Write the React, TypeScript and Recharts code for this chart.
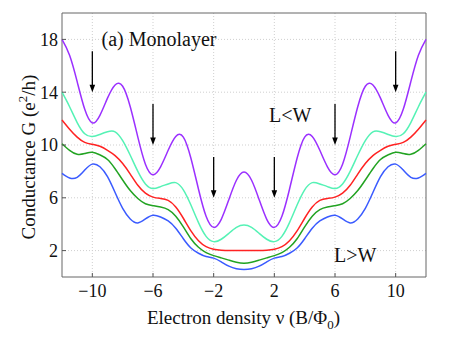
import React from 'react';
import {
  LineChart,
  Line,
  XAxis,
  YAxis,
  CartesianGrid,
  ReferenceLine,
  ReferenceArea,
  Customized,
} from 'recharts';

// Electron density (B/Phi0)
const nu = [
  -12, -11.5, -11, -10.5, -10, -9.5, -9, -8.5, -8, -7.5, -7, -6.5, -6, -5.5, -5, -4.5, -4, -3.5, -3, -2.5, -2, -1.5, -1, -0.5,
  0, 0.5, 1, 1.5, 2, 2.5, 3, 3.5, 4, 4.5, 5, 5.5, 6, 6.5, 7, 7.5, 8, 8.5, 9, 9.5, 10, 10.5, 11, 11.5, 12,
];

// Conductance curves (e^2/h)
const purple = [
  18.0, 16.8, 14.8, 12.7, 11.67, 12.25, 13.55, 14.55, 14.45, 12.9, 10.6, 8.55, 7.75, 8.35, 9.6, 10.65, 10.6, 9.0, 6.65, 4.6, 3.76, 4.37, 5.86, 7.33,
  7.95,
  7.33, 5.86, 4.37, 3.76, 4.6, 6.65, 9.0, 10.6, 10.65, 9.6, 8.35, 7.75, 8.55, 10.6, 12.9, 14.45, 14.55, 13.55, 12.25, 11.67, 12.7, 14.8, 16.8, 18.0,
];
const cyan = [
  14.0, 12.9, 11.7, 10.85, 10.64, 10.8, 11.0, 11.0, 10.33, 9.22, 8.0, 7.05, 6.7, 6.85, 7.05, 7.15, 6.6, 5.45, 4.12, 3.08, 2.68, 2.86, 3.31, 3.76,
  3.94,
  3.76, 3.31, 2.86, 2.68, 3.08, 4.12, 5.45, 6.6, 7.15, 7.05, 6.85, 6.7, 7.05, 8.0, 9.22, 10.33, 11.0, 11.0, 10.8, 10.64, 10.85, 11.7, 12.9, 14.0,
];
const red = [
  11.9, 11.2, 10.6, 10.2, 10.05, 9.9, 9.6, 9.2, 8.6, 7.8, 6.95, 6.35, 6.05, 5.95, 5.8, 5.3, 4.45, 3.5, 2.75, 2.3, 2.1, 2.03, 2.0, 2.0,
  2.0,
  2.0, 2.0, 2.03, 2.1, 2.3, 2.75, 3.5, 4.45, 5.3, 5.8, 5.95, 6.05, 6.35, 6.95, 7.8, 8.6, 9.2, 9.6, 9.9, 10.05, 10.2, 10.6, 11.2, 11.9,
];
const green = [
  10.1, 9.6, 9.3, 9.35, 9.45, 9.25, 8.9, 8.2, 7.35, 6.55, 5.95, 5.55, 5.4, 5.3, 5.1, 4.6, 3.8, 2.9, 2.25, 1.85, 1.62, 1.45, 1.28, 1.12,
  1.05,
  1.12, 1.28, 1.45, 1.62, 1.85, 2.25, 2.9, 3.8, 4.6, 5.1, 5.3, 5.4, 5.55, 5.95, 6.55, 7.35, 8.2, 8.9, 9.25, 9.45, 9.35, 9.3, 9.6, 10.1,
];
const blue = [
  7.85, 7.5, 7.55, 8.1, 8.55, 8.35, 7.6, 6.4, 5.2, 4.4, 4.1, 4.4, 4.68, 4.55, 4.25, 3.7, 2.9, 2.2, 1.8, 1.55, 1.43, 1.15, 0.82, 0.62,
  0.56,
  0.62, 0.82, 1.15, 1.43, 1.55, 1.8, 2.2, 2.9, 3.7, 4.25, 4.55, 4.68, 4.4, 4.1, 4.4, 5.2, 6.4, 7.6, 8.35, 8.55, 8.1, 7.55, 7.5, 7.85,
];

const xTicks = [-10, -6, -2, 2, 6, 10];
const yTicks = [2, 6, 10, 14, 18];

// Arrows: x position, tail value, tip value
const arrowX = [-10, -6, -2, 2, 6, 10];
const arrowTail = [17.1, 13.1, 9.1, 9.1, 13.1, 17.1];
const arrowTip = [14, 10, 6, 6, 10, 14];

const data = nu.map((x, i) => ({
  x,
  p: purple[i],
  c: cyan[i],
  r: red[i],
  g: green[i],
  b: blue[i],
}));

const FONT = '"Liberation Serif", "DejaVu Serif", "Times New Roman", serif';
const TICK_COLOR = '#555';

const fmt = (v: number) => (v < 0 ? '\u2212' + Math.abs(v) : String(v));

const XTickBottom = (props: any) => {
  const { x, y, payload } = props;
  return (
    <g>
      <line x1={x} y1={y} x2={x} y2={y - 4} stroke={TICK_COLOR} strokeWidth={1} />
      <text x={x} y={y + 20} textAnchor="middle" fontFamily={FONT} fontSize={18} fill="#111">
        {fmt(payload.value)}
      </text>
    </g>
  );
};

const XTickTop = (props: any) => {
  const { x, y } = props;
  return <line x1={x} y1={y} x2={x} y2={y + 4} stroke={TICK_COLOR} strokeWidth={1} />;
};

const YTickLeft = (props: any) => {
  const { x, y, payload } = props;
  return (
    <g>
      <line x1={x} y1={y} x2={x + 4} y2={y} stroke={TICK_COLOR} strokeWidth={1} />
      <text x={x - 4} y={y} dy="0.35em" textAnchor="end" fontFamily={FONT} fontSize={18} fill="#111">
        {fmt(payload.value)}
      </text>
    </g>
  );
};

const YTickRight = (props: any) => {
  const { x, y } = props;
  return <line x1={x} y1={y} x2={x - 4} y2={y} stroke={TICK_COLOR} strokeWidth={1} />;
};

const Arrow = (props: any) => {
  const { x1, y1, x2, y2 } = props;
  if (x1 == null || y1 == null) return null;
  const x = x1;
  const tipY = Math.max(y1, y2);
  const tailY = Math.min(y1, y2);
  return (
    <g>
      <line x1={x} y1={tailY} x2={x} y2={tipY - 5} stroke="#000" strokeWidth={1.3} />
      <polygon points={`${x - 2.8},${tipY - 7.5} ${x + 2.8},${tipY - 7.5} ${x},${tipY}`} fill="#000" />
    </g>
  );
};

const Texts = () => (
  <g fontFamily={FONT} fill="#111">
    <text x={101.5} y={45.5} fontSize={20}>
      (a) Monolayer
    </text>
    <text x={269} y={121.5} fontSize={20}>
      L&lt;W
    </text>
    <text x={334} y={261.5} fontSize={20}>
      L&gt;W
    </text>
    <text x={243.5} y={323.5} fontSize={19} textAnchor="middle">
      Electron density ν (B/Φ
      <tspan fontSize={13} dy={5}>
        0
      </tspan>
      <tspan dy={-5}>)</tspan>
    </text>
    <text x={35} y={157} fontSize={19} textAnchor="middle" transform="rotate(-90 35 157)">
      Conductance G (e
      <tspan fontSize={13} dy={-8}>
        2
      </tspan>
      <tspan dy={8}>/h)</tspan>
    </text>
  </g>
);

export default function App() {
  return (
    <div style={{ position: 'absolute', left: 0, top: 0 }}>
      <LineChart
        width={471}
        height={338}
        data={data}
        margin={{ top: 13, right: 45, bottom: 31, left: 0 }}
      >
        <CartesianGrid
          stroke="#cfcfcf"
          strokeDasharray="1 2"
          verticalValues={xTicks}
          horizontalValues={yTicks}
        />
        <XAxis
          dataKey="x"
          type="number"
          domain={[-12, 12]}
          ticks={xTicks}
          axisLine={false}
          tickLine={false}
          tickSize={0}
          tickMargin={0}
          height={30}
          tick={<XTickBottom />}
          interval={0}
        />
        <XAxis
          xAxisId="top"
          orientation="top"
          dataKey="x"
          type="number"
          domain={[-12, 12]}
          ticks={xTicks}
          axisLine={false}
          tickLine={false}
          tickSize={0}
          tickMargin={0}
          height={0}
          tick={<XTickTop />}
          interval={0}
        />
        <YAxis
          type="number"
          domain={[0, 20]}
          ticks={yTicks}
          axisLine={false}
          tickLine={false}
          tickSize={0}
          tickMargin={0}
          width={62}
          tick={<YTickLeft />}
          interval={0}
        />
        <YAxis
          yAxisId="right"
          orientation="right"
          type="number"
          domain={[0, 20]}
          ticks={yTicks}
          axisLine={false}
          tickLine={false}
          tickSize={0}
          tickMargin={0}
          width={0}
          tick={<YTickRight />}
          interval={0}
        />
        <ReferenceArea x1={-12} x2={12} y1={0} y2={20} fill="none" stroke="#666" strokeWidth={1} ifOverflow="visible" />
        <Line type="natural" dataKey="b" stroke="#3a5bff" strokeWidth={1.5} dot={false} isAnimationActive={false} />
        <Line type="natural" dataKey="g" stroke="#22a322" strokeWidth={1.5} dot={false} isAnimationActive={false} />
        <Line type="natural" dataKey="r" stroke="#ff2222" strokeWidth={1.5} dot={false} isAnimationActive={false} />
        <Line type="natural" dataKey="c" stroke="#55f2b5" strokeWidth={1.5} dot={false} isAnimationActive={false} />
        <Line type="natural" dataKey="p" stroke="#9b30ff" strokeWidth={1.5} dot={false} isAnimationActive={false} />
        {arrowX.map((ax, i) => (
          <ReferenceLine
            key={'arrow' + i}
            segment={[
              { x: ax, y: arrowTail[i] },
              { x: ax, y: arrowTip[i] },
            ]}
            shape={Arrow}
            ifOverflow="visible"
          />
        ))}
        <Customized component={Texts} />
      </LineChart>
    </div>
  );
}
